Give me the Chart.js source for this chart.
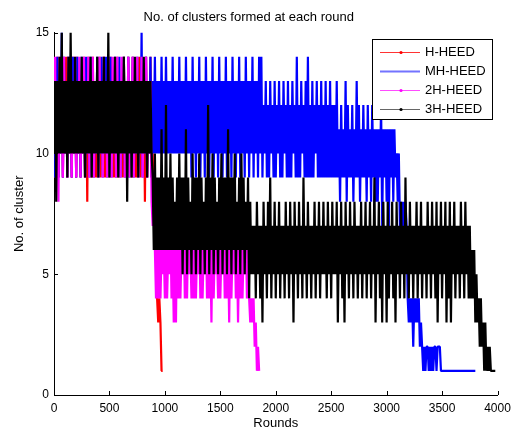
<!DOCTYPE html>
<html>
<head>
<meta charset="utf-8">
<script src="https://cdn.jsdelivr.net/npm/chart.js@4.4.1/dist/chart.umd.min.js"></script>
<style>
  html, body { margin: 0; padding: 0; background: #fff; }
  canvas { display: block; }
</style>
</head>
<body>
<canvas id="myChart" width="518" height="431"></canvas>
<script>
// one value every STEP rounds
var STEP = 10;
var seriesNames = ['H-HEED', 'MH-HEED', '2H-HEED', '3H-HEED'];
var xTicks = [0, 500, 1000, 1500, 2000, 2500, 3000, 3500, 4000];
var yTicks = [0, 5, 10, 15];

var hHeed = [
  9,13,10,14,9,13,10,14,9,13,
  10,14,9,13,10,13,9,14,10,13,
  9,14,10,13,9,13,10,14,9,13,
  8,14,10,13,9,14,10,13,9,13,
  10,14,9,13,10,14,9,13,10,13,
  9,14,10,13,9,13,10,14,9,13,
  10,13,9,14,10,13,9,14,10,13,
  9,14,10,13,9,13,10,14,9,13,
  10,13,8,14,9,13,10,14,9,
  10,8,9,7,4,3,4,3,1,1
];

var mhHeed = [
  9,13,10,14,9,13,10,15,9,14,
  10,13,9,14,10,13,9,14,10,13,
  9,14,10,13,9,14,10,13,9,14,
  10,13,9,14,10,13,9,13,10,14,
  9,13,10,14,9,13,10,14,9,13,
  10,14,9,13,10,14,9,13,10,14,
  9,13,10,14,9,13,10,14,9,13,
  10,14,9,13,10,14,9,13,10,15,
  9,13,10,14,9,13,10,14,9,
  13,10,14,10,13,10,13,10,14,10,13,
  10,14,10,13,10,13,10,14,10,13,
  10,13,10,14,10,13,10,13,10,14,
  10,13,10,13,9,14,10,13,9,13,
  10,14,9,13,10,13,9,14,10,13,
  9,13,10,14,9,13,10,13,9,14,
  10,13,9,13,10,14,9,13,10,13,
  9,14,10,13,9,13,10,14,9,13,
  10,13,9,14,10,13,9,13,10,14,
  9,13,10,13,9,14,
  10,14,9,12,
  10,13,9,12,9,13,10,12,9,13,
  9,12,10,13,9,12,9,13,10,12,
  9,13,9,12,9,13,10,12,9,14,
  9,12,9,13,10,12,9,13,9,14,
  9,12,9,13,9,12,10,13,9,12,
  9,13,9,12,9,13,9,12,9,13,
  9,12,9,12,9,13,
  9,11,8,12,
  9,11,9,13,8,12,9,11,9,12,
  8,11,9,13,9,12,8,11,9,12,
  9,11,8,12,9,11,8,12,9,11,
  8,
  11,8,11,9,12,7,11,9,11,
  8,11,7,11,9,11,8,11,9,10,
  8,10,
  7,8,6,8,7,8,7,
  4,3,4,3,4,2,4,3,4,3,4,2,3,2,1,2,1,2,2,1,2,1,2,1,2,2,1,2,2,2,1,
  1,1,1,1,1,1,1,1,1,1,1,1,1,1,1,1,1,1,1,1,1,1,1,1,1,1,1,1,1,1,1
];

var h2Heed = [
  10,14,9,13,8,14,10,13,9,14,
  10,13,9,14,10,13,9,13,10,14,
  9,13,10,14,9,13,10,14,9,13,
  10,14,9,13,10,14,9,13,10,13,
  9,14,10,13,9,14,10,13,9,14,
  10,13,9,14,10,13,9,14,10,13,
  9,14,10,13,9,13,10,14,9,13,
  10,14,9,13,10,14,9,13,10,14,
  9,13,10,14,9,13,10,13,
  8,7,8,6,
  4,6,4,7,4,6,5,6,
  4,7,4,6,5,7,4,6,3,6,
  3,7,4,6,4,6,5,7,4,6,
  4,7,5,6,4,6,4,7,4,6,
  5,7,4,6,4,6,5,7,4,6,
  4,6,3,7,4,6,5,6,4,7,
  4,6,5,7,4,6,4,6,3,7,
  4,6,5,7,4,6,3,6,4,7,
  4,6,5,7,4,6,4,
  3,4,3,4,2,3,1,2,1
];

var h3Heed = [
  10,13,8,13,10,14,10,15,10,13,
  10,13,9,14,10,15,10,13,10,14,
  10,13,10,13,10,14,10,13,9,13,
  10,13,10,14,9,13,10,13,10,14,
  9,13,10,13,10,14,10,13,10,15,
  9,13,10,13,10,14,10,13,9,13,
  10,13,10,14,10,13,8,13,10,13,
  9,13,10,14,10,13,9,13,10,13,
  10,14,10,13,9,13,10,13,10,
  9,6,10,6,9,6,9,6,11,6,9,
  6,12,6,9,6,10,6,9,6,8,
  6,9,6,10,6,9,5,9,6,11,
  5,9,6,8,5,10,6,9,5,9,
  6,10,5,9,6,8,5,9,6,12,
  5,9,6,10,5,9,6,8,5,9,
  6,10,5,9,6,9,5,11,6,9,
  5,9,6,10,5,8,6,9,5,10,
  6,9,5,8,6,9,4,8,5,7,
  5,7,4,8,5,7,4,7,3,8,
  5,7,4,8,5,9,4,7,5,8,
  4,7,5,8,4,7,5,7,4,8,
  5,7,4,8,5,7,3,8,5,7,
  4,8,5,7,4,9,5,7,4,8,
  5,7,4,7,5,8,4,7,5,8,
  4,7,5,8,5,7,4,8,5,7,
  4,8,5,7,5,8,3,7,5,8,
  4,7,3,8,5,7,4,8,5,7,
  4,8,5,7,4,7,5,8,4,7,
  5,8,4,7,5,8,4,7,5,9,
  3,7,5,8,4,7,3,8,5,7,
  3,8,4,7,5,8,4,7,3,8,
  5,7,4,8,5,7,4,9,5,7,
  4,8,5,7,4,7,5,8,4,7,
  5,8,4,7,5,7,4,8,5,7,
  4,8,5,7,4,8,3,7,5,8,
  4,7,5,8,3,7,4,8,3,7,
  5,8,4,7,5,7,4,8,5,7,
  4,8,5,7,4,
  7,4,6,4,6,3,5,3,4,2,4,2,3,1,3,1,2,1,2,1,1,1,1,1
];

function toPoints(values) {
  return values.map(function (v, i) { return { x: i * STEP, y: v }; });
}

var FONT = "'Liberation Sans', Arial, Helvetica, sans-serif";
Chart.defaults.font.family = FONT;
Chart.defaults.color = '#000';

// MATLAB style legend box with a line sample and a dot
var legendBox = {
  id: 'legendBox',
  afterDraw: function (chart) {
    var ctx = chart.ctx;
    ctx.save();
    ctx.fillStyle = '#fff';
    ctx.fillRect(372, 39, 121, 80);
    ctx.strokeStyle = '#000';
    ctx.lineWidth = 1;
    ctx.strokeRect(372.5, 39.5, 120, 80);
    ctx.font = '13px ' + FONT;
    ctx.textBaseline = 'middle';
    chart.data.datasets.forEach(function (ds, i) {
      var y = Math.round(51.7 + i * 19.2) + 0.5;
      ctx.strokeStyle = ds.legendColor;
      ctx.lineWidth = ds.legendWidth;
      ctx.beginPath();
      ctx.moveTo(380, y);
      ctx.lineTo(420, y);
      ctx.stroke();
      if (ds.legendDot) {
        ctx.fillStyle = ds.borderColor;
        ctx.beginPath();
        ctx.arc(401, y, 1.6, 0, Math.PI * 2);
        ctx.fill();
      }
      ctx.fillStyle = '#000';
      ctx.fillText(ds.label, 425, y);
    });
    ctx.restore();
  }
};

// ticks pointing into the plot
var inwardTicks = {
  id: 'inwardTicks',
  afterDatasetsDraw: function (chart) {
    var ctx = chart.ctx, a = chart.chartArea;
    var xs = chart.scales.x, ys = chart.scales.y;
    ctx.save();
    ctx.strokeStyle = '#000';
    ctx.lineWidth = 1;
    ctx.beginPath();
    xs.ticks.forEach(function (t) {
      var px = Math.round(xs.getPixelForValue(t.value)) + 0.5;
      ctx.moveTo(px, a.bottom);
      ctx.lineTo(px, a.bottom - 4);
    });
    ys.ticks.forEach(function (t) {
      var py = Math.round(ys.getPixelForValue(t.value)) + 0.5;
      ctx.moveTo(a.left, py);
      ctx.lineTo(a.left + 4, py);
    });
    ctx.stroke();
    ctx.restore();
  }
};

var ctx = document.getElementById('myChart').getContext('2d');

var myChart = new Chart(ctx, {
  type: 'line',
  data: {
    datasets: [
      { label: seriesNames[0], data: toPoints(hHeed), borderColor: '#ff0000', order: 4,
        legendColor: 'rgba(255,0,0,0.8)', legendWidth: 1, legendDot: true },
      { label: seriesNames[1], data: toPoints(mhHeed), borderColor: '#0000ff', order: 3,
        legendColor: '#7373ff', legendWidth: 2, legendDot: false },
      { label: seriesNames[2], data: toPoints(h2Heed), borderColor: '#ff00ff', order: 2,
        legendColor: 'rgba(255,0,255,0.7)', legendWidth: 1, legendDot: true },
      { label: seriesNames[3], data: toPoints(h3Heed), borderColor: '#000000', order: 1,
        legendColor: 'rgba(0,0,0,0.6)', legendWidth: 1, legendDot: true }
    ]
  },
  options: {
    responsive: false,
    animation: false,
    events: [],
    layout: { padding: { right: 20.5 } },
    elements: {
      line: { borderWidth: 2.2, tension: 0, fill: false, borderJoinStyle: 'bevel' },
      point: { radius: 0, hitRadius: 0, hoverRadius: 0 }
    },
    plugins: {
      legend: { display: false },
      tooltip: { enabled: false },
      title: {
        display: true,
        text: 'No. of clusters formed at each round',
        color: '#000',
        font: { size: 13, weight: 'normal', family: FONT },
        padding: { top: 10, bottom: 7 }
      }
    },
    scales: {
      x: {
        type: 'linear',
        min: 0,
        max: 4000,
        afterBuildTicks: function (s) { s.ticks = xTicks.map(function (v) { return { value: v }; }); },
        afterFit: function (s) { s.height = 36; },
        ticks: { color: '#000', font: { size: 12 }, padding: 6, maxRotation: 0,
                 callback: function (v) { return String(v); } },
        grid: { display: true, drawOnChartArea: false, drawTicks: false },
        border: { display: true, color: '#000', width: 1 },
        title: { display: true, text: 'Rounds', color: '#000', font: { size: 13, lineHeight: 1.1 }, padding: { top: 0, bottom: 0 } }
      },
      y: {
        type: 'linear',
        min: 0,
        max: 15,
        afterBuildTicks: function (s) { s.ticks = yTicks.map(function (v) { return { value: v }; }); },
        afterFit: function (s) { s.width = 54; },
        ticks: { color: '#000', font: { size: 12 }, padding: 5,
                 callback: function (v) { return String(v); } },
        grid: { display: true, drawOnChartArea: false, drawTicks: false },
        border: { display: true, color: '#000', width: 1 },
        title: { display: true, text: 'No. of cluster', color: '#000', font: { size: 13 }, padding: { top: 12, bottom: 0 } }
      }
    }
  },
  plugins: [inwardTicks, legendBox]
});
</script>
</body>
</html>
